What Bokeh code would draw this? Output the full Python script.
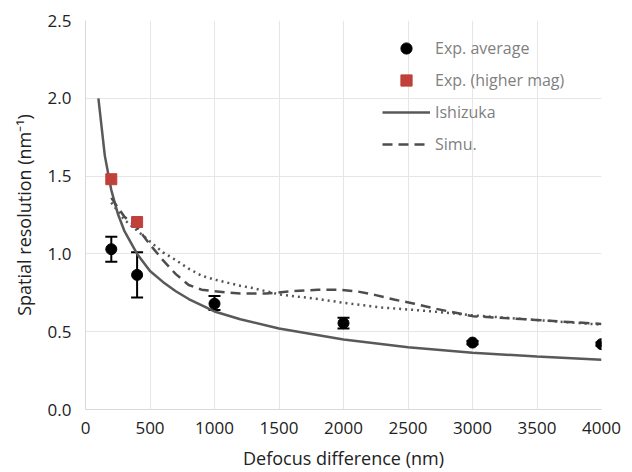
from bokeh.plotting import figure
from bokeh.models import Legend, LegendItem, Whisker, ColumnDataSource, TeeHead, FixedTicker, CustomJSTickFormatter
from bokeh.embed import file_html
from bokeh.resources import INLINE

# Experimental average
exp_x = [200, 400, 1000, 2000, 3000, 4000]
exp_y = [1.03, 0.865, 0.68, 0.555, 0.43, 0.42]
exp_lo = [0.95, 0.72, 0.64, 0.52, 0.42, 0.41]
exp_hi = [1.11, 1.01, 0.73, 0.59, 0.44, 0.43]

# Experimental (higher magnification)
mag_x = [200, 400]
mag_y = [1.48, 1.205]

# Ishizuka model
ish_x = [100, 150, 200, 250, 300, 400, 500, 600, 700, 800, 1000, 1200, 1500, 2000, 2500, 3000, 3500, 4000]
ish_y = [2.0, 1.63, 1.41, 1.26, 1.15, 1.0, 0.89, 0.82, 0.76, 0.71, 0.63, 0.58, 0.52, 0.45, 0.40, 0.365, 0.34, 0.32]

# Simulation (dashed)
sim_x = [200, 300, 400, 500, 600, 700, 800, 900, 1000, 1200, 1400, 1600, 1800, 1950, 2100, 2250, 2400, 2550, 2700, 3000, 3300, 3600, 4000]
sim_y = [1.36, 1.24, 1.17, 1.06, 0.96, 0.87, 0.80, 0.77, 0.76, 0.745, 0.745, 0.76, 0.77, 0.77, 0.76, 0.735, 0.705, 0.68, 0.65, 0.60, 0.585, 0.57, 0.55]

# Dotted curve
dot_x = [200, 300, 400, 500, 600, 700, 800, 900, 1000, 1100, 1200, 1300, 1500, 1800, 2050, 2300, 2550, 2800, 3000, 3500, 4000]
dot_y = [1.33, 1.22, 1.15, 1.08, 1.01, 0.96, 0.905, 0.86, 0.835, 0.815, 0.795, 0.78, 0.74, 0.71, 0.68, 0.655, 0.64, 0.622, 0.605, 0.575, 0.545]

x_ticks = [0, 500, 1000, 1500, 2000, 2500, 3000, 3500, 4000]
y_ticks = [0.0, 0.5, 1.0, 1.5, 2.0, 2.5]

FONT = "Open Sans"

p = figure(width=632, height=472, x_range=(0, 4000), y_range=(0, 2.5),
           output_backend="svg", toolbar_location=None,
           min_border_left=85, min_border_right=31, min_border_top=20, min_border_bottom=60)
p.outline_line_color = None
p.background_fill_color = "white"

for ax in (p.xaxis, p.yaxis):
    ax.major_tick_line_color = None
    ax.minor_tick_line_color = None
    ax.axis_line_color = "#d9d9d9"
    ax.major_label_text_font = FONT
    ax.major_label_text_font_size = "17px"
    ax.major_label_text_color = "#222222"
    ax.axis_label_text_font = FONT
    ax.axis_label_text_font_size = "18px"
    ax.axis_label_text_font_style = "normal"
    ax.axis_label_text_color = "#222222"

p.xaxis.ticker = FixedTicker(ticks=x_ticks)
p.yaxis.ticker = FixedTicker(ticks=y_ticks)
p.yaxis.formatter = CustomJSTickFormatter(code="return tick.toFixed(1);")
p.xaxis.axis_label = "Defocus difference (nm)"
p.yaxis.axis_label = "Spatial resolution (nm\u207b\u00b9)"
p.xaxis.major_label_standoff = 6
p.yaxis.major_label_standoff = 8
p.xaxis.axis_label_standoff = 9
p.yaxis.axis_label_standoff = 9

p.xgrid.ticker = FixedTicker(ticks=x_ticks)
p.ygrid.ticker = FixedTicker(ticks=y_ticks)
p.grid.grid_line_color = "#e6e6e6"
p.grid.grid_line_width = 1

# curves
r_dot = p.line(dot_x, dot_y, line_color="#555555", line_width=2.5, line_dash="2 4")
r_ish = p.line(ish_x, ish_y, line_color="#595959", line_width=2.5)
r_sim = p.line(sim_x, sim_y, line_color="#4d4d4d", line_width=2.5, line_dash="10 6")

# error bars
src = ColumnDataSource(dict(x=exp_x, y=exp_y, lo=exp_lo, hi=exp_hi))
w = Whisker(source=src, base="x", upper="hi", lower="lo", line_color="black", line_width=2,
            upper_head=TeeHead(size=12, line_color="black", line_width=2),
            lower_head=TeeHead(size=12, line_color="black", line_width=2))
p.add_layout(w)

r_exp = p.scatter("x", "y", source=src, size=11, marker="circle", fill_color="black", line_color="black")
r_mag = p.scatter(mag_x, mag_y, size=11, marker="square", fill_color="#c0403a", line_color="#c0403a")

legend = Legend(items=[
    LegendItem(label="Exp. average", renderers=[r_exp]),
    LegendItem(label="Exp. (higher mag)", renderers=[r_mag]),
    LegendItem(label="Ishizuka", renderers=[r_ish]),
    LegendItem(label="Simu.", renderers=[r_sim]),
], location=(297, 251))
legend.border_line_color = None
legend.background_fill_alpha = 0
legend.padding = 0
legend.margin = 0
legend.spacing = 4
legend.glyph_width = 48
legend.glyph_height = 28
legend.label_standoff = 5
legend.label_text_font = FONT
legend.label_text_font_size = "16px"
legend.label_text_color = "#7f7f7f"
p.add_layout(legend)

open("out.html", "w").write(file_html(p, INLINE))
